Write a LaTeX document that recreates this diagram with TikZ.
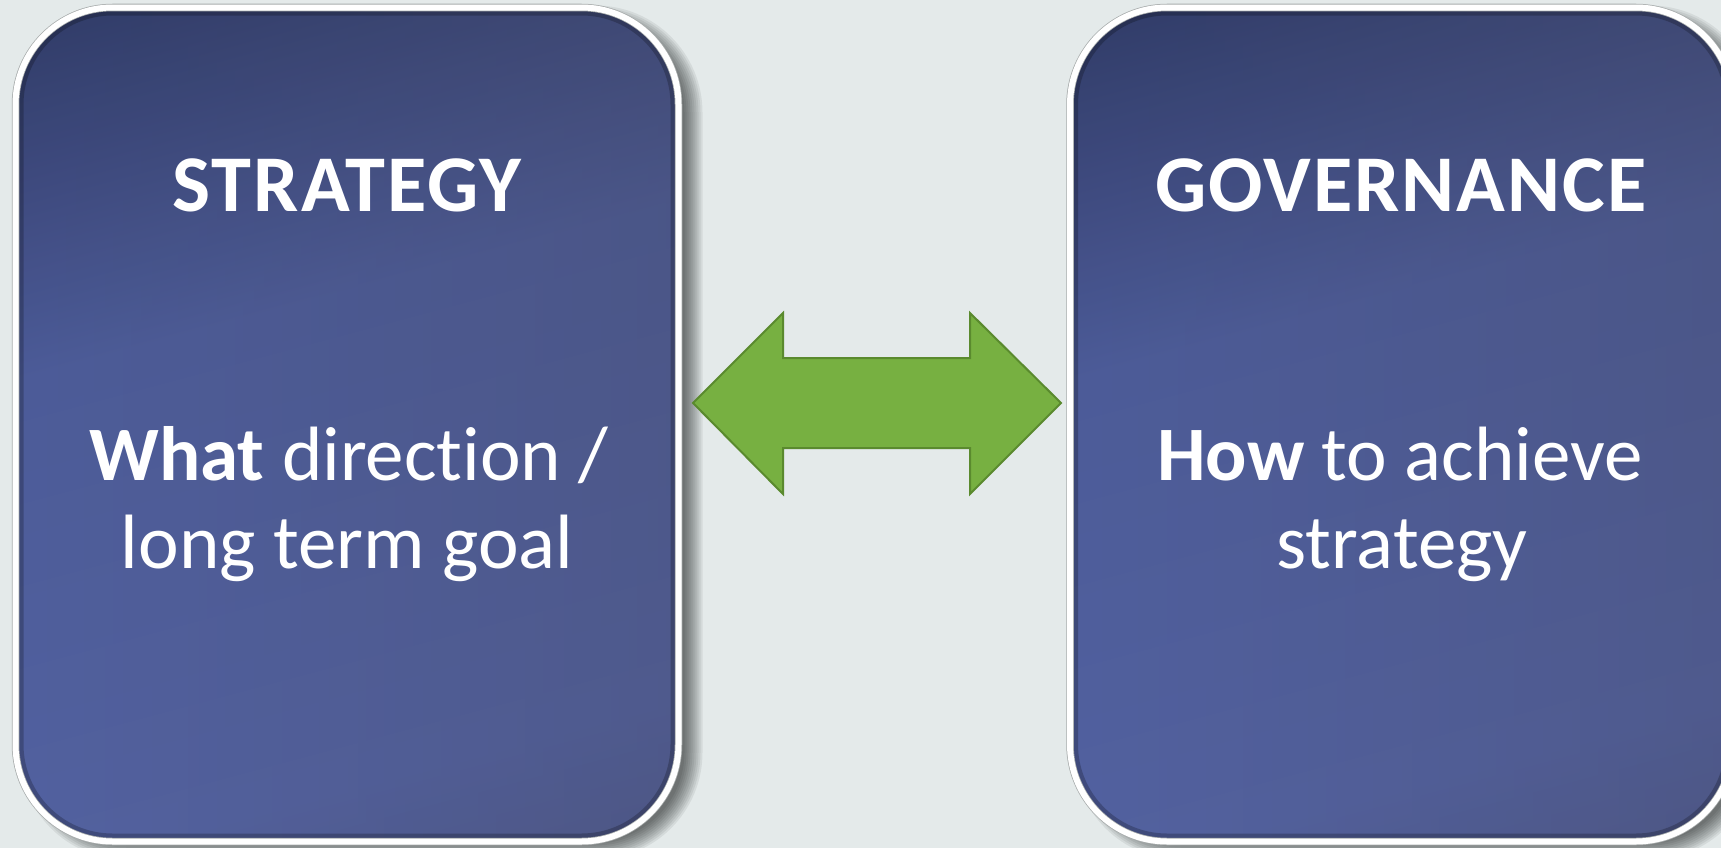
\documentclass[tikz,border=0pt]{standalone}
\usepackage{fontspec}
\setmainfont{Carlito}[Ligatures={NoCommon}]
\newfontfamily\titlefont{Carlito}[Ligatures={NoCommon}, LetterSpace=2.5]
\usetikzlibrary{fadings}
\definecolor{bg}{HTML}{E4EAEA}
\definecolor{bbot}{HTML}{4C5179}
\definecolor{bmid}{HTML}{5362A1}
\definecolor{bmid2}{HTML}{4D5C99}
\definecolor{bupper}{HTML}{313C69}
\definecolor{btop}{HTML}{1C2243}
\definecolor{arrowgreen}{HTML}{77B041}
\definecolor{arrowedge}{HTML}{5A8A2E}
\definecolor{rimgray}{HTML}{A8ACAC}
\definecolor{grayish}{HTML}{45465A}
\pgfdeclareverticalshading{boxshade}{100bp}{color(0bp)=(bbot); color(28bp)=(bmid); color(58bp)=(bmid2); color(80bp)=(bupper); color(100bp)=(btop)}
\newcommand\glassbox[1]{%
  \foreach \s [evaluate=\s as \r using 97+\s] in {10,8,...,-8}
    \fill[black,opacity=0.065,rounded corners=\r bp] ({#1+14-\s},{15.5-\s}) rectangle ({#1+663+14+\s},{849.5+\s});
  \shade[rounded corners=97bp, shading=boxshade, shading angle=15] (#1,7.5) rectangle ({#1+663},841.5);
  \fill[grayish, opacity=0.28, path fading=west, rounded corners=97bp] (#1,7.5) rectangle ({#1+663},841.5);
  \begin{scope}
    \clip[rounded corners=97bp] (#1,7.5) rectangle ({#1+663},841.5);
    \draw[black,opacity=0.22,line width=16bp,rounded corners=97bp] (#1,7.5) rectangle ({#1+663},841.5);
  \end{scope}
  \draw[rimgray,line width=7.5bp,rounded corners=97bp] (#1,7.5) rectangle ({#1+663},841.5);
  \draw[white,line width=6bp,rounded corners=97bp] (#1,7.5) rectangle ({#1+663},841.5);
}
\begin{document}
\begin{tikzpicture}[x=1bp,y=-1bp,
  title/.style={text=white, font=\titlefont\fontsize{80.5bp}{90bp}\selectfont\bfseries, anchor=base, inner sep=0pt},
  body/.style={text=white, font=\fontsize{77bp}{88bp}\selectfont, anchor=base, inner sep=0pt},
  arrowshape/.style={fill=arrowgreen, draw=arrowedge, line width=2bp, line join=miter}]
\fill[bg] (0,0) rectangle (1721,848);
\useasboundingbox (0,0) rectangle (1721,848);
\glassbox{15.5}
\glassbox{1070}
\draw[arrowshape] (693,403) -- (783,313) -- (783,358) -- (970,358) -- (970,313) -- (1061,403)
  -- (970,494) -- (970,448) -- (783,448) -- (783,494) -- cycle;
\node[title] (t1) at (347,211.5) {STRATEGY};
\node[title] (t2) at (1401,211.5) {GOVERNANCE};
\node[body] (b1a) at (349,480.7) {\textbf{What} direction /};
\node[body] (b1b) at (347,568) {long term goal};
\node[body] (b2a) at (1400,480.7) {\textbf{How} to achieve};
\node[body] (b2b) at (1402,568) {strategy};
\end{tikzpicture}
\end{document}
